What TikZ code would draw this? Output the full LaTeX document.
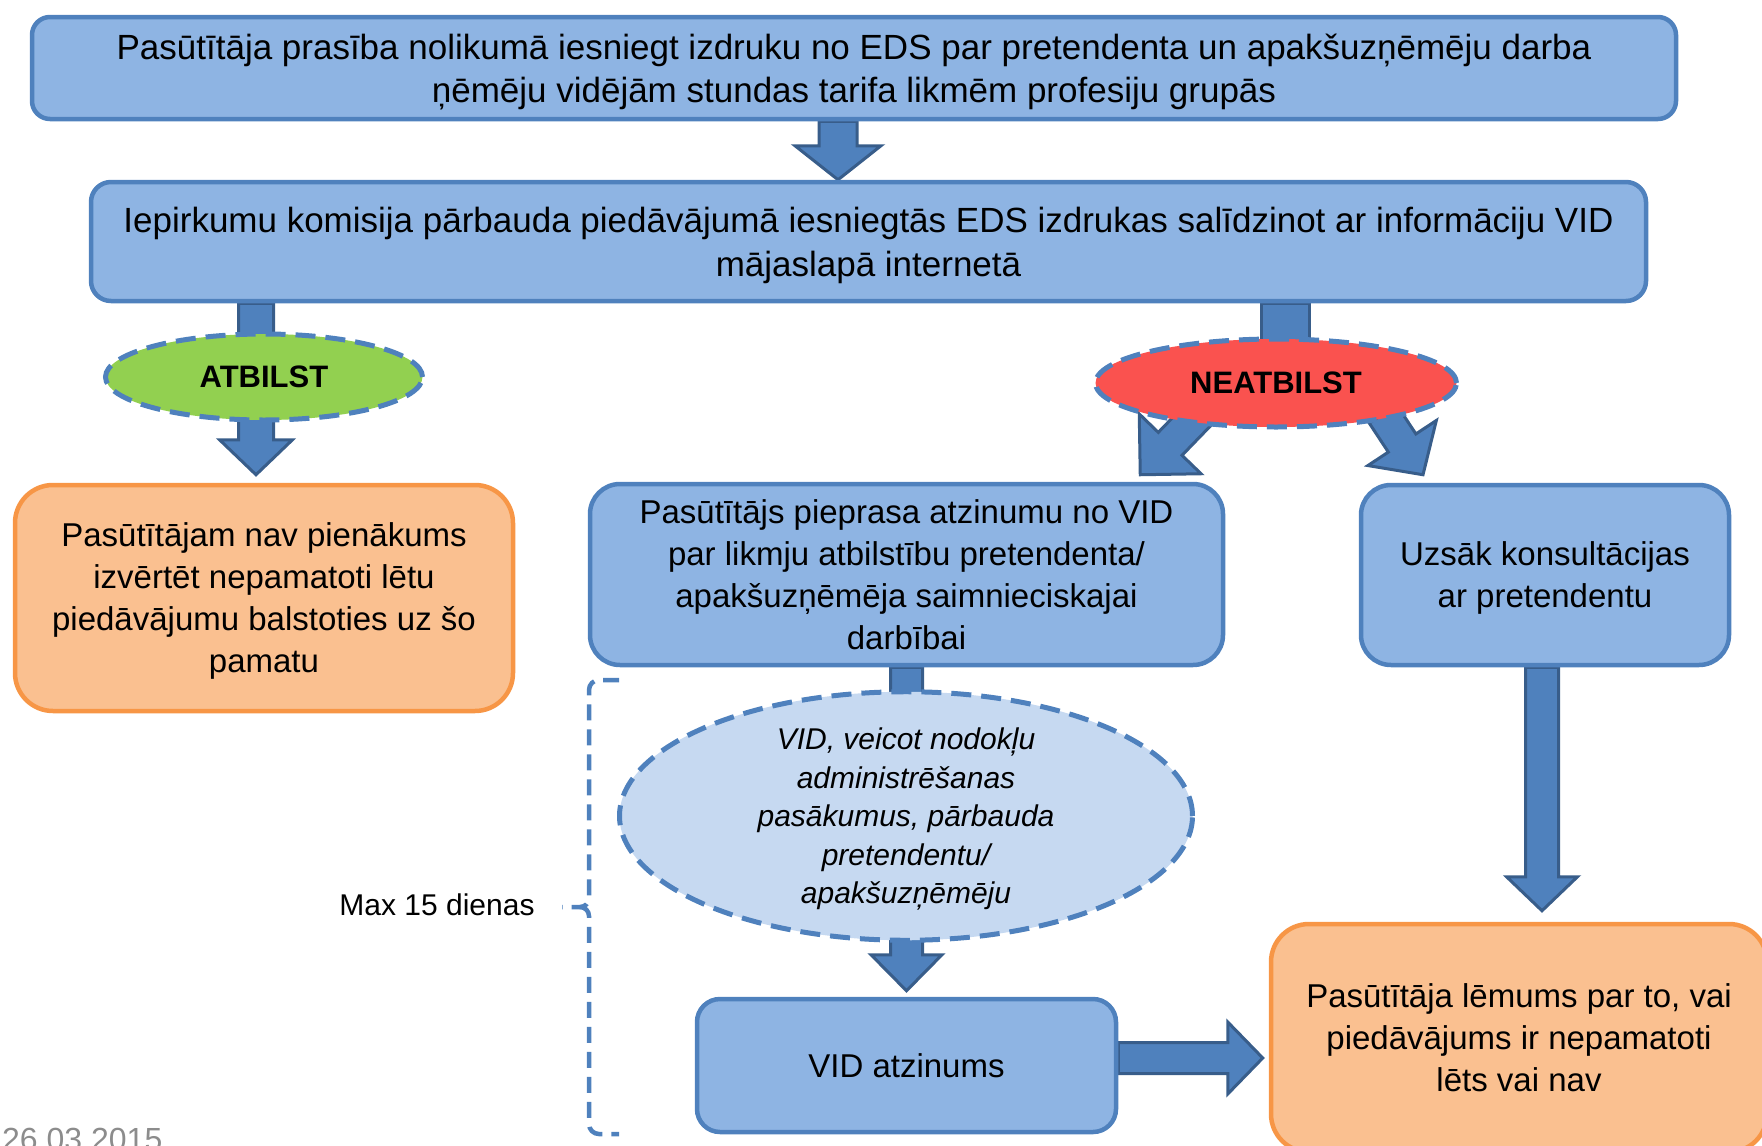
\documentclass[tikz,border=0pt]{standalone}
\usepackage{fontspec}
\setmainfont{Liberation Sans}
\usetikzlibrary{calc,shapes.geometric,backgrounds}
\definecolor{boxfill}{HTML}{8EB4E3}
\definecolor{boxline}{HTML}{4F81BD}
\definecolor{orfill}{HTML}{FAC090}
\definecolor{orline}{HTML}{F79646}
\definecolor{grfill}{HTML}{92D050}
\definecolor{rdfill}{HTML}{FA524F}
\definecolor{ltfill}{HTML}{C6D9F1}
\definecolor{arfill}{HTML}{4F81BD}
\definecolor{arline}{HTML}{385D8A}
\definecolor{dategray}{HTML}{8C8C8C}
\newcommand\myfs[2]{\fontsize{#1}{#2}\selectfont}
% block arrow: start, tip, half shaft, half head, head length
\newcommand\blockarrow[5]{%
  \coordinate (ba-s) at (#1);
  \coordinate (ba-t) at (#2);
  \coordinate (ba-h) at ($(ba-t)!#5!(ba-s)$);
  \draw[barrow] ($(ba-s)!#3!90:(ba-t)$) -- ($(ba-h)!#3!90:(ba-t)$) -- ($(ba-h)!#4!90:(ba-t)$)
    -- (ba-t) -- ($(ba-h)!#4!-90:(ba-t)$) -- ($(ba-h)!#3!-90:(ba-t)$) -- ($(ba-s)!#3!-90:(ba-t)$) -- cycle;
}
\newcommand\blockbar[3]{%
  \coordinate (bb-s) at (#1);
  \coordinate (bb-t) at (#2);
  \draw[barrow] ($(bb-s)!#3!90:(bb-t)$) -- ($(bb-t)!#3!-90:(bb-s)$) -- ($(bb-t)!#3!90:(bb-s)$) -- ($(bb-s)!#3!-90:(bb-t)$) -- cycle;
}
\tikzset{
  bbox/.style={draw=boxline, fill=boxfill, line width=4.5pt, rounded corners=#1, inner sep=0pt, align=center, font=\myfs{33}{42}},
  bbox/.default=25pt,
  obox/.style={draw=orline, fill=orfill, line width=4.5pt, rounded corners=#1, inner sep=0pt, align=center, font=\myfs{33}{42}},
  obox/.default=38pt,
  dell/.style={ellipse, draw=boxline, line width=5pt, dash pattern=on 20pt off 10pt, inner sep=0pt, align=center},
  barrow/.style={fill=arfill, draw=arline, line width=3pt, line join=miter},
  bracket/.style={draw=boxline, line width=4.5pt, dash pattern=on 16pt off 9pt},
}
\begin{document}
\begin{tikzpicture}[x=1pt,y=-1pt]
\useasboundingbox (0,0) rectangle (1762,1146);

\node[bbox=18pt, minimum width=1644pt, minimum height=102pt, font=\myfs{35}{43}, text depth=-2.6pt] (top) at (854,68)
  {Pasūtītāja prasība nolikumā iesniegt izdruku no EDS par pretendenta un apakšuzņēmēju darba\\ņēmēju vidējām stundas tarifa likmēm profesiju grupās};
\node[bbox=20pt, minimum width=1555pt, minimum height=119pt, font=\myfs{35}{44}, text depth=-3.6pt] (box2) at (868.5,241.5)
  {Iepirkumu komisija pārbauda piedāvājumā iesniegtās EDS izdrukas salīdzinot ar informāciju VID\\mājaslapā internetā};

\node[dell, fill=grfill, minimum width=317pt, minimum height=86pt, font=\bfseries\myfs{31}{36}, text depth=-6pt] (atb) at (264,377) {ATBILST};
\node[dell, fill=rdfill, minimum width=361pt, minimum height=88pt, font=\bfseries\myfs{31}{36}, text depth=-4pt] (neat) at (1276,383) {NEATBILST};

\node[obox, minimum width=498pt, minimum height=226pt, text depth=-2pt] (nav) at (264,598)
  {Pasūtītājam nav pienākums\\izvērtēt nepamatoti lētu\\piedāvājumu balstoties uz šo\\pamatu};
\node[bbox=30pt, minimum width=633pt, minimum height=181pt, text depth=-2pt] (vidreq) at (906.5,574.5)
  {Pasūtītājs pieprasa atzinumu no VID\\par likmju atbilstību pretendenta/\\apakšuzņēmēja saimnieciskajai\\darbībai};
\node[bbox=30pt, minimum width=368pt, minimum height=180pt, text depth=-1pt] (uzsak) at (1545,575)
  {Uzsāk konsultācijas\\ar pretendentu};

\node[dell, fill=ltfill, minimum width=573pt, minimum height=237pt, font=\itshape\myfs{30}{38.5}, text depth=-4.7pt] (videll) at (906,816)
  {VID, veicot nodokļu\\administrēšanas\\pasākumus, pārbauda\\pretendentu/\\apakšuzņēmēju};
\node[bbox=23pt, minimum width=419pt, minimum height=133pt, text depth=-4pt] (vidatz) at (906.5,1065.5) {VID atzinums};
\node[obox, minimum width=496pt, minimum height=228pt] (dec) at (1519,1038)
  {Pasūtītāja lēmums par to, vai\\piedāvājums ir nepamatoti\\lēts vai nav};

\node[font=\myfs{30}{36}, inner sep=0pt] (maxlbl) at (437,905) {Max 15 dienas};
\node[font=\myfs{32}{36}, text=dategray, inner sep=0pt, anchor=base west] (date) at (2,1150) {26.03.2015};

\draw[bracket] (619,680) -- (599,680) to[out=180,in=90] (589,690) -- (589,898)
  to[out=-90,in=0] (580,907) -- (562,907);
\draw[bracket] (580,907) to[out=0,in=90] (589,916) -- (589,1124) to[out=-90,in=180] (599,1134) -- (619,1134);

\begin{scope}[on background layer]
  \blockarrow{$(top.south)+(-16,0)$}{$(box2.north)+(-30.5,0)$}{19pt}{43pt}{34pt}
  \blockarrow{$(box2.south -| atb.center)+(-8,0)$}{$(nav.north)+(-8,-8)$}{17.5pt}{36.5pt}{35pt}
  \blockbar{$(box2.south -| neat.center)+(9,0)$}{$(neat.center)+(9,0)$}{24pt}
  \blockarrow{$(neat.center)+(-76,30)$}{$(vidreq.north east)+(-85,-7)$}{16.5pt}{43pt}{43pt}
  \blockarrow{$(neat.center)+(107,31)$}{$(uzsak.north)+(-122,-8)$}{16.5pt}{41pt}{38pt}
  \blockarrow{vidreq.south}{$(vidatz.north)+(0,-6)$}{16pt}{35.5pt}{36pt}
  \blockarrow{$(uzsak.south)+(-3,0)$}{$(dec.north -| uzsak.south)+(-3,-11)$}{16.5pt}{35.5pt}{34pt}
  \blockarrow{$(vidatz.east)+(0,-7.5)$}{$(dec.west |- vidatz.east)+(-6,-7.5)$}{15.5pt}{36pt}{35pt}
\end{scope}
\end{tikzpicture}
\end{document}
